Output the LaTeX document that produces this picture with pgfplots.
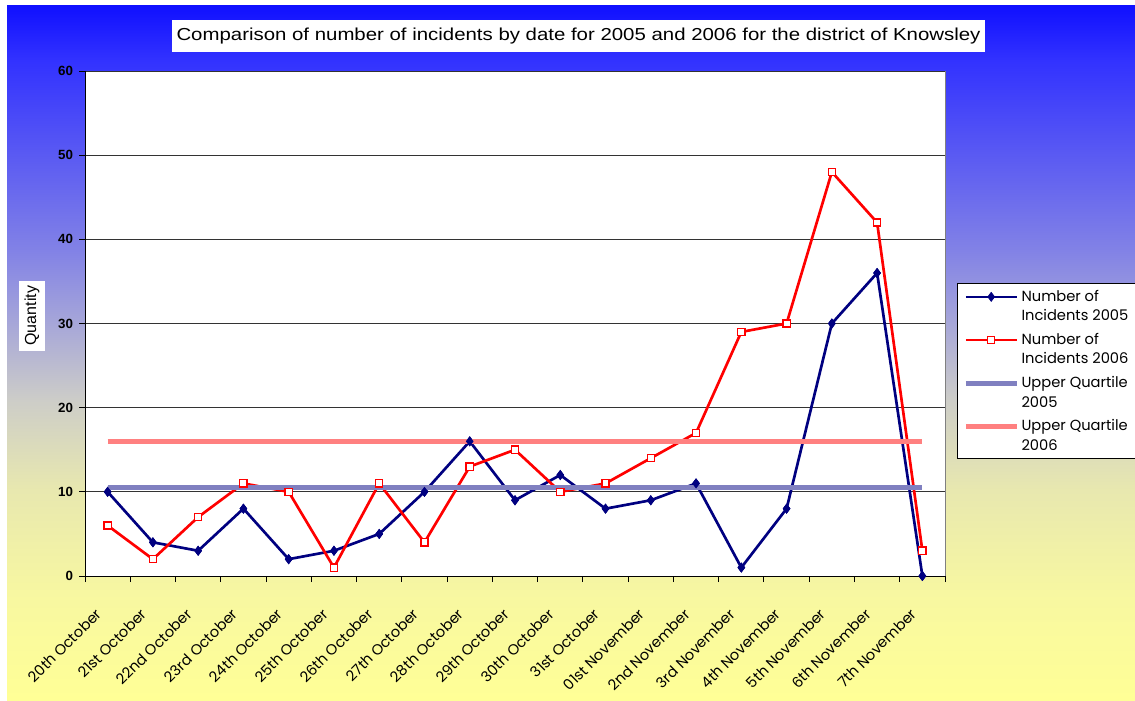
\documentclass[border=0pt]{standalone}
\usepackage{pgfplots}
\pgfplotsset{compat=1.18}
\usepackage{fontspec}
\usepackage{graphicx}
\setmainfont{Poppins}
\newfontfamily\arialfont{Liberation Sans}
\definecolor{navy}{RGB}{0,0,128}
\definecolor{uqa}{RGB}{128,128,192}
\definecolor{uqb}{RGB}{255,128,128}
\definecolor{bg0}{RGB}{255,255,150}
\definecolor{bg1}{RGB}{248,248,160}
\definecolor{bg2}{RGB}{232,232,175}
\definecolor{bg3}{RGB}{205,205,200}
\definecolor{bg4}{RGB}{170,170,215}
\definecolor{bg5}{RGB}{130,130,230}
\definecolor{bg6}{RGB}{50,50,255}
\definecolor{bg7}{RGB}{16,16,255}
\pgfdeclareverticalshading{bgshade}{100bp}{color(0bp)=(bg0); color(25bp)=(bg0); color(32.2bp)=(bg1); color(40.15bp)=(bg2); color(46.6bp)=(bg3); color(51.65bp)=(bg4); color(57.4bp)=(bg5); color(71.1bp)=(bg6); color(75bp)=(bg7); color(100bp)=(bg7)}
\newcommand{\lentry}[2]{\parbox[b]{81pt}{\raggedright\baselineskip=14.5pt #1\newline #2}}
\begin{document}
\begin{tikzpicture}
\useasboundingbox (0,0) rectangle (851.25pt,525pt);
\fill[white] (0,0) rectangle (851.25pt,525pt);
\shade[shading=bgshade] (5.25pt,0pt) rectangle (851.25pt,520.5pt);
\node[fill=white, minimum width=609.75pt, minimum height=24pt, inner sep=0pt] at (433.9pt,498pt)
  {\resizebox{603pt}{\height}{\arialfont\fontsize{13}{15}\selectfont Comparison of number of incidents by date for 2005 and 2006 for the district of Knowsley}};
\begin{axis}[
  at={(63.75pt,93pt)}, anchor=south west, scale only axis,
  width=645pt, height=378.75pt,
  xmin=-0.5, xmax=18.5, ymin=0, ymax=60,
  ytick={0,10,...,60},
  xtick={0,...,18},
  xticklabels={20th October,21st October,22nd October,23rd October,24th October,25th October,26th October,27th October,28th October,29th October,30th October,31st October,01st November,2nd November,3rd November,4th November,5th November,6th November,7th November},
  minor xtick={-0.5,0.5,...,18.5},
  every major x tick/.append style={draw=none},
  tick align=outside, tick pos=left,
  major tick length=4.5pt, minor tick length=4.5pt,
  tick style={black, line width=0.75pt},
  axis x line*=bottom, axis y line*=left,
  axis line style={-, black, line width=0.75pt},
  axis background/.style={fill=white, draw=gray, line width=0.75pt},
  ymajorgrids, major grid style={black!80, line width=0.75pt},
  /pgf/number format/assume math mode=true,
  yticklabel style={font=\arialfont\bfseries\fontsize{10}{12}\selectfont, xshift=-1pt},
  xticklabel style={font=\fontsize{11}{13}\selectfont, xshift=-6.5pt, yshift=-22pt, rotate=45, anchor=east, inner sep=0pt},
  ylabel={\arialfont\fontsize{12}{14}\selectfont Quantity},
  every axis y label/.style={at={(rel axis cs:-0.0616,0.5155)}, rotate=90, anchor=center, fill=white, inner xsep=4pt, inner ysep=4pt},
  clip mode=individual,
  legend style={at={(1.014,0.5802)}, anchor=north west, draw=black, fill=white, line width=0.75pt,
    font=\fontsize{11}{14.5}\selectfont, inner xsep=4.5pt, inner ysep=3pt, row sep=4pt,
    cells={anchor=base west, inner sep=1pt}},
  legend image code/.code={\draw[#1, mark repeat=2, mark phase=2] plot coordinates {(0pt,17.9pt) (19pt,17.9pt) (38pt,17.9pt)};},
]
\addplot[navy, line width=2pt, mark=diamond*, mark size=3.4pt, mark options={solid, fill=navy, line width=0.5pt}] coordinates {
(0,10) (1,4) (2,3) (3,8) (4,2) (5,3) (6,5) (7,10) (8,16) (9,9) (10,12) (11,8) (12,9) (13,11) (14,1) (15,8) (16,30) (17,36) (18,0)};
\addlegendentry{\lentry{Number of}{Incidents 2005}}
\addplot[red, line width=2pt, mark=square*, mark size=2.7pt, mark options={solid, fill=white, draw=red, line width=1pt}] coordinates {
(0,6) (1,2) (2,7) (3,11) (4,10) (5,1) (6,11) (7,4) (8,13) (9,15) (10,10) (11,11) (12,14) (13,17) (14,29) (15,30) (16,48) (17,42) (18,3)};
\addlegendentry{\lentry{Number of}{Incidents 2006}}
\addplot[uqa, line width=3.5pt] coordinates {(0,10.5) (18,10.5)};
\addlegendentry{\lentry{Upper Quartile}{2005}}
\addplot[uqb, line width=3.5pt] coordinates {(0,16) (18,16)};
\addlegendentry{\lentry{Upper Quartile}{2006}}
\addplot[forget plot, only marks, navy, mark=diamond*, mark size=3.4pt, mark options={solid, fill=navy, line width=0.5pt}] coordinates {
(0,10) (1,4) (2,3) (3,8) (4,2) (5,3) (6,5) (7,10) (8,16) (9,9) (10,12) (11,8) (12,9) (13,11) (14,1) (15,8) (16,30) (17,36) (18,0)};
\addplot[forget plot, only marks, red, mark=square*, mark size=2.7pt, mark options={solid, fill=white, draw=red, line width=1pt}] coordinates {
(0,6) (1,2) (2,7) (3,11) (4,10) (5,1) (6,11) (7,4) (8,13) (9,15) (10,10) (11,11) (12,14) (13,17) (14,29) (15,30) (16,48) (17,42) (18,3)};
\end{axis}
\end{tikzpicture}
\end{document}
